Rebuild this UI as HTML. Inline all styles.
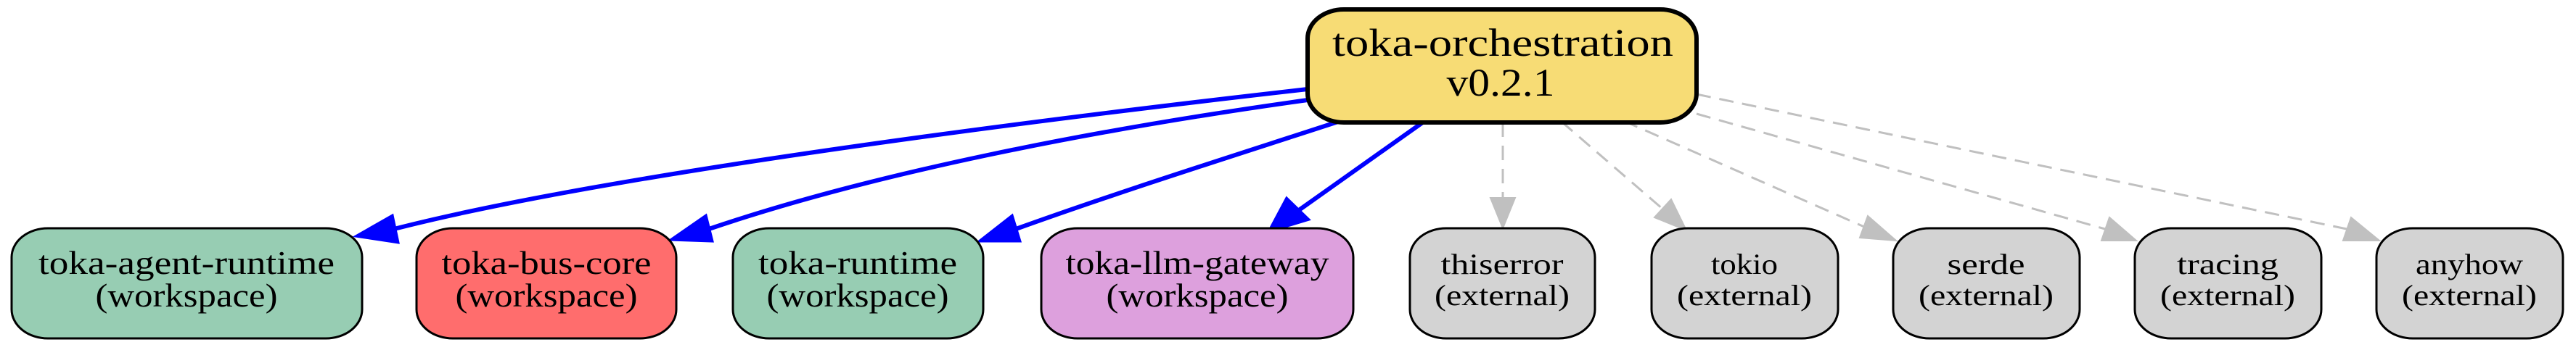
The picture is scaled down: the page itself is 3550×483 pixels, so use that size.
<!DOCTYPE html>
<html><head><meta charset="utf-8"><style>
html,body{margin:0;padding:0;background:#fff;width:3550px;height:483px;overflow:hidden}
svg{display:block}
text{font-family:"Liberation Serif",serif;text-anchor:middle;fill:#000}
</style></head><body>
<svg width="3550" height="483" viewBox="0 0 3550 483" xmlns="http://www.w3.org/2000/svg">
<g fill="none" stroke="#0000ff" stroke-width="6">
<path d="M1802,123 C1300,180 800,250 543,316"/>
<path d="M1802,138 C1500,180 1200,240 977,316"/>
<path d="M1850,166 C1700,215 1550,262 1400,316"/>
<path d="M1962,168 L1790,290"/>
</g>
<g fill="#0000ff" stroke="#0000ff" stroke-width="3">
<polygon points="490,326 541,297 549,335"/>
<polygon points="924,331 973,297 982,333"/>
<polygon points="1349,333 1395,297 1406,333"/>
<polygon points="1748,320 1773,273 1804,303"/>
</g>
<g fill="none" stroke="#c0c0c0" stroke-width="3" stroke-dasharray="20,12">
<path d="M2071,169 L2071,273"/>
<path d="M2152,168 L2291,288"/>
<path d="M2238,167 L2569,313"/>
<path d="M2338,157 L2901,316"/>
<path d="M2338,130 L3234,316"/>
</g>
<g fill="#c0c0c0" stroke="#c0c0c0" stroke-width="2">
<polygon points="2054,273 2088,273 2071,315"/>
<polygon points="2324,318 2280,300 2303,275"/>
<polygon points="2613,332 2563,328 2574,298"/>
<polygon points="2944,332 2896,332 2907,300"/>
<polygon points="3279,332 3229,332 3240,300"/>
</g>
<rect x="1802" y="13" width="536" height="156" rx="50" ry="40" fill="#f7dc75" stroke="#000" stroke-width="6"/>
<text x="2071" y="77" font-size="54" textLength="470" lengthAdjust="spacingAndGlyphs">toka-orchestration</text>
<text x="2068" y="132" font-size="54" textLength="149" lengthAdjust="spacingAndGlyphs">v0.2.1</text>
<g stroke="#000" stroke-width="3">
<rect x="16" y="315" width="483" height="152" rx="50" ry="40" fill="#97cdb3"/>
<rect x="574" y="315" width="358" height="152" rx="50" ry="40" fill="#ff6d6d"/>
<rect x="1010" y="315" width="345" height="152" rx="50" ry="40" fill="#97cdb3"/>
<rect x="1435" y="315" width="430" height="152" rx="50" ry="40" fill="#dda0dd"/>
<rect x="1943" y="315" width="255" height="152" rx="50" ry="40" fill="#d3d3d3"/>
<rect x="2276" y="315" width="257" height="152" rx="50" ry="40" fill="#d3d3d3"/>
<rect x="2609" y="315" width="257" height="152" rx="50" ry="40" fill="#d3d3d3"/>
<rect x="2942" y="315" width="257" height="152" rx="50" ry="40" fill="#d3d3d3"/>
<rect x="3275" y="315" width="257" height="152" rx="50" ry="40" fill="#d3d3d3"/>
</g>
<g font-size="45">
<text x="257" y="378" textLength="408" lengthAdjust="spacingAndGlyphs">toka-agent-runtime</text>
<text x="257" y="423" textLength="251" lengthAdjust="spacingAndGlyphs">(workspace)</text>
<text x="753" y="378" textLength="289" lengthAdjust="spacingAndGlyphs">toka-bus-core</text>
<text x="753" y="423" textLength="251" lengthAdjust="spacingAndGlyphs">(workspace)</text>
<text x="1182" y="378" textLength="274" lengthAdjust="spacingAndGlyphs">toka-runtime</text>
<text x="1182" y="423" textLength="251" lengthAdjust="spacingAndGlyphs">(workspace)</text>
<text x="1650" y="378" textLength="363" lengthAdjust="spacingAndGlyphs">toka-llm-gateway</text>
<text x="1650" y="423" textLength="251" lengthAdjust="spacingAndGlyphs">(workspace)</text>
</g>
<g font-size="40">
<text x="2070" y="378" textLength="169" lengthAdjust="spacingAndGlyphs">thiserror</text>
<text x="2070" y="421" textLength="186" lengthAdjust="spacingAndGlyphs">(external)</text>
<text x="2404" y="378" textLength="92" lengthAdjust="spacingAndGlyphs">tokio</text>
<text x="2404" y="421" textLength="186" lengthAdjust="spacingAndGlyphs">(external)</text>
<text x="2737" y="378" textLength="107" lengthAdjust="spacingAndGlyphs">serde</text>
<text x="2737" y="421" textLength="186" lengthAdjust="spacingAndGlyphs">(external)</text>
<text x="3070" y="378" textLength="140" lengthAdjust="spacingAndGlyphs">tracing</text>
<text x="3070" y="421" textLength="186" lengthAdjust="spacingAndGlyphs">(external)</text>
<text x="3403" y="378" textLength="148" lengthAdjust="spacingAndGlyphs">anyhow</text>
<text x="3403" y="421" textLength="186" lengthAdjust="spacingAndGlyphs">(external)</text>
</g>
</svg>
</body></html>
